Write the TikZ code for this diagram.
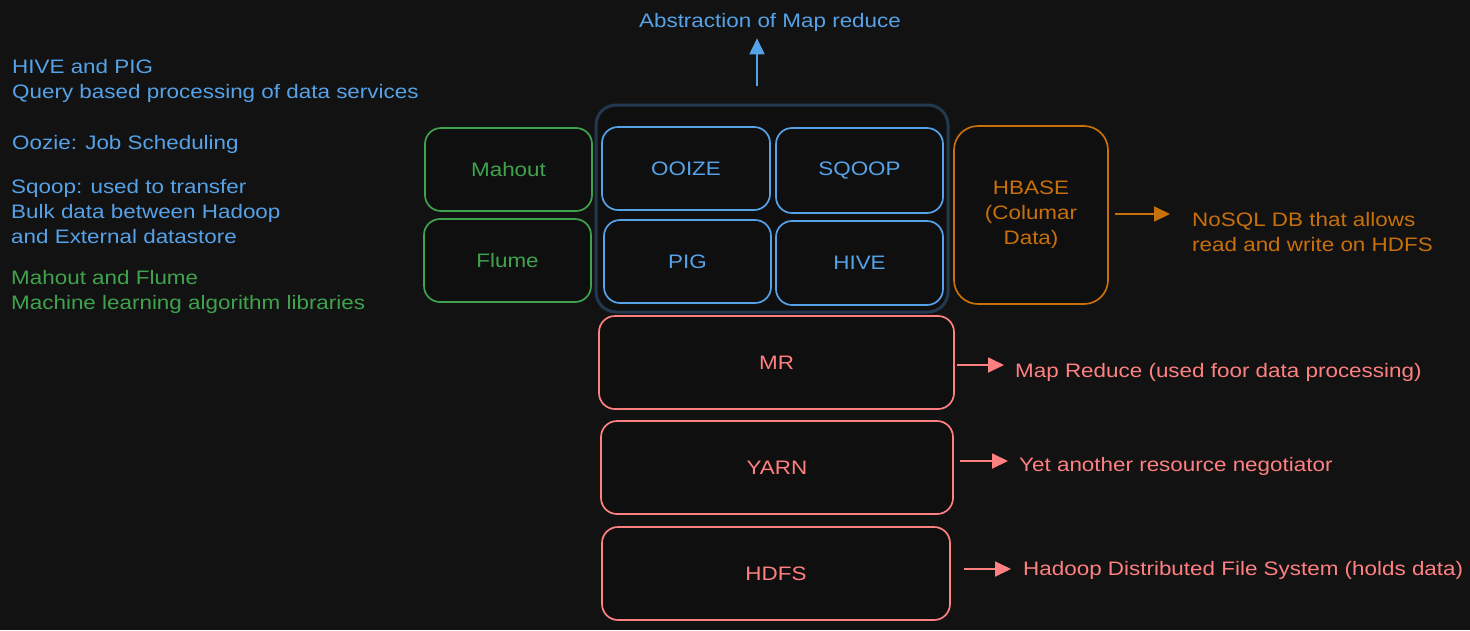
\documentclass[tikz,border=0pt]{standalone}
\usepackage{fontspec}
\setmainfont{Liberation Sans}[FakeStretch=1.15]
\usetikzlibrary{arrows.meta}
\definecolor{bg}{HTML}{121212}
\definecolor{boxfill}{HTML}{0F0F0F}
\definecolor{cblue}{HTML}{56A2E8}
\definecolor{cgreen}{HTML}{3FA34D}
\definecolor{corange}{HTML}{C8700A}
\definecolor{cred}{HTML}{FF8080}
\definecolor{cslate}{HTML}{22384F}
\tikzset{
  txt/.style={font=\fontsize{19.5}{25}\selectfont, inner sep=0pt},
  boxn/.style={draw, line width=1.7pt, rounded corners=16pt, fill=boxfill,
    font=\fontsize{19.5}{25}\selectfont, align=center, inner sep=0pt},
  arr/.style={-{Triangle[length=16pt,width=15pt]}, line width=1.8pt},
}
\begin{document}
\begin{tikzpicture}[x=1pt,y=-1pt]
\fill[bg] (0,0) rectangle (1470,630);
\useasboundingbox (0,0) rectangle (1470,630);

% left notes
\node[txt, cblue, anchor=north west, align=left] (n1) at (12,59) {HIVE and PIG\\Query based processing of data services};
\node[txt, cblue, anchor=north west, align=left] (n2) at (12,135) {Oozie: Job Scheduling};
\node[txt, cblue, anchor=north west, align=left] (n3) at (11,179) {Sqoop: used to transfer\\Bulk data between Hadoop\\and External datastore};
\node[txt, cgreen, anchor=north west, align=left] (n4) at (11,270) {Mahout and Flume\\Machine learning algorithm libraries};

% container
\node[draw=cslate, line width=3pt, rounded corners=20pt, fill=boxfill, minimum width=352pt, minimum height=207pt, inner sep=0pt] (cont) at (772,208.5) {};

% ecosystem boxes
\node[boxn, draw=cgreen, text=cgreen, minimum width=167pt, minimum height=83pt] (mahout) at (508.5,169.5) {Mahout};
\node[boxn, draw=cgreen, text=cgreen, minimum width=167pt, minimum height=83pt] (flume) at (507.5,260.5) {Flume};
\node[boxn, draw=cblue, text=cblue, minimum width=168pt, minimum height=83pt] (ooize) at (686,168.5) {OOIZE};
\node[boxn, draw=cblue, text=cblue, minimum width=167pt, minimum height=85pt] (sqoop) at (859.5,170.5) {SQOOP};
\node[boxn, draw=cblue, text=cblue, minimum width=167pt, minimum height=83pt] (pig) at (687.5,261.5) {PIG};
\node[boxn, draw=cblue, text=cblue, minimum width=167pt, minimum height=84pt] (hive) at (859.5,263) {HIVE};
\node[boxn, draw=corange, text=corange, minimum width=154pt, minimum height=178pt, rounded corners=24pt] (hbase) at (1031,215) {HBASE\\(Columar\\Data)};

% core layers
\node[boxn, draw=cred, text=cred, minimum width=355pt, minimum height=93pt] (mr) at (776.5,362.5) {MR};
\node[boxn, draw=cred, text=cred, minimum width=352pt, minimum height=93pt] (yarn) at (777,467.5) {YARN};
\node[boxn, draw=cred, text=cred, minimum width=348pt, minimum height=93pt] (hdfs) at (776,573.5) {HDFS};

% right notes
\node[txt, corange, anchor=west, align=left] (nosql) at (1192,232) {NoSQL DB that allows\\read and write on HDFS};
\node[txt, cred, anchor=west] (mrt) at (1015,372) {Map Reduce (used foor data processing)};
\node[txt, cred, anchor=west] (yarnt) at (1019,466) {Yet another resource negotiator};
\node[txt, cred, anchor=west] (hdfst) at (1023,570) {Hadoop Distributed File System (holds data)};

% top note
\node[txt, cblue] (abs) at (770,22) {Abstraction of Map reduce};

% arrows (yshift is in page direction: positive = up)
\draw[arr, corange] ([xshift=6pt,yshift=1pt]hbase.east) -- ([xshift=-22pt,yshift=1pt]hbase.east -| nosql.west);
\draw[arr, cred] ([xshift=2pt,yshift=-2.5pt]mr.east) -- ([xshift=-11pt,yshift=-2.5pt]mr.east -| mrt.west);
\draw[arr, cred] ([xshift=6pt,yshift=6.5pt]yarn.east) -- ([xshift=-11pt,yshift=6.5pt]yarn.east -| yarnt.west);
\draw[arr, cblue] ([xshift=-15pt,yshift=18pt]cont.north) -- ([xshift=-15pt,yshift=-7pt]cont.north |- abs.south);
\draw[arr, cred] ([xshift=13pt,yshift=4.5pt]hdfs.east) -- ([xshift=-12pt,yshift=4.5pt]hdfs.east -| hdfst.west);
\end{tikzpicture}
\end{document}
